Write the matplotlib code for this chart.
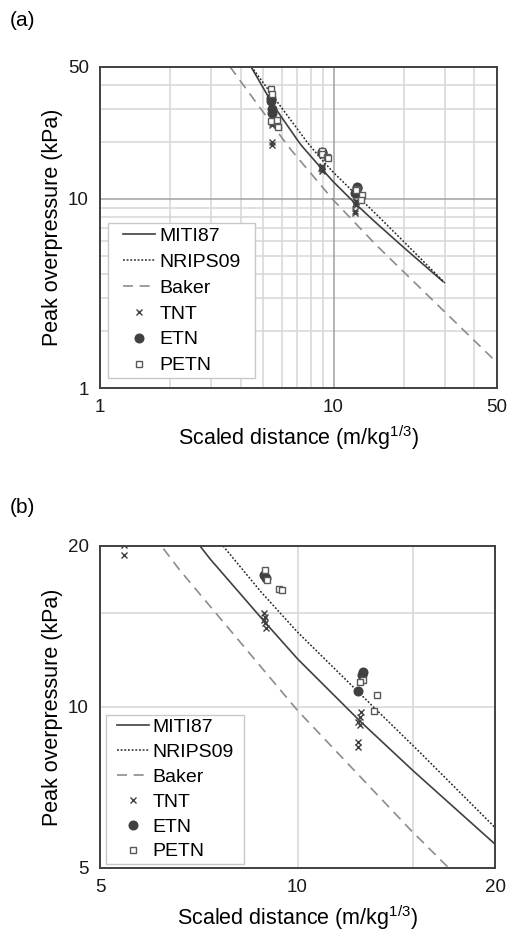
import numpy as np
import matplotlib
matplotlib.use('Agg')
import matplotlib.pyplot as plt
from matplotlib.patches import Rectangle
from matplotlib.ticker import FixedLocator, NullFormatter

plt.rcParams['font.family'] = ['Liberation Sans', 'DejaVu Sans']
plt.rcParams['mathtext.fontset'] = 'custom'
plt.rcParams['mathtext.rm'] = 'Liberation Sans'
plt.rcParams['mathtext.default'] = 'regular'

# curves (scaled distance, peak overpressure kPa)
miti_x = [4.43, 5.5, 7.1, 7.36, 8.92, 10, 12.45, 15, 20, 29.4]
miti_y = [50, 31.5, 20, 18.9, 14.4, 12.3, 9.41, 7.6, 5.54, 3.67]
nrips_x = [4.45, 5.5, 7.7, 8.8, 10, 13, 15.4, 20, 30]
nrips_y = [50, 35, 20, 16.4, 13.8, 10.05, 8.2, 5.95, 3.6]
baker_x = [3.6, 6.2, 6.62, 10, 14.85, 17, 50]
baker_y = [50, 20, 18.0, 9.85, 5.9, 5.0, 1.37]

# measured points
tnt_x = [5.43, 5.43, 5.43, 5.43, 8.9, 8.92, 8.88, 8.92, 8.95,
         12.5, 12.45, 12.38, 12.45, 12.35, 12.38]
tnt_y = [25.2, 24.5, 20.1, 19.2, 14.96, 14.75, 14.54, 14.33, 14.03,
         9.80, 9.59, 9.39, 9.25, 8.59, 8.43]
etn_x = [5.42, 5.42, 5.43, 5.44, 8.9, 8.95, 12.6, 12.55, 12.38]
etn_y = [34.0, 33.0, 30.0, 28.5, 17.65, 17.44, 11.64, 11.47, 10.71]
petn_x = [5.42, 5.46, 5.42, 5.72, 5.76, 8.92, 8.97, 9.38, 9.48,
          12.58, 12.45, 13.23, 13.1]
petn_y = [38.3, 35.8, 25.8, 26.0, 24.0, 18.0, 17.28, 16.6, 16.55,
          11.23, 11.12, 10.53, 9.83]

panels = [
    dict(label='(a)', rect=[0.1969, 0.5829, 0.7809, 0.3455], lim=(1, 50),
         ticks=[1, 10, 50],
         minor=[2, 3, 4, 5, 6, 7, 8, 9, 20, 30, 40], major=[10],
         tag_y=0.978, leg_anchor=(0.0487, 0.031), leg_space=0.43,
         leg_pad=0.2, side_pad=11),
    dict(label='(b)', rect=[0.1969, 0.0677, 0.7776, 0.3459], lim=(5, 20),
         ticks=[5, 10, 20],
         minor=[10, 15], major=[],
         tag_y=0.4544, leg_anchor=(0.0329, 0.0125), leg_space=0.376,
         leg_pad=0.18, side_pad=7),
]

fig = plt.figure(figsize=(5.08, 9.31), dpi=100)
legends = []

for p in panels:
    ax = fig.add_axes(p['rect'])
    ax.set_xscale('log')
    ax.set_yscale('log')
    ax.set_xlim(*p['lim'])
    ax.set_ylim(*p['lim'])

    for v in p['minor']:
        ax.axvline(v, color='#d6d6d6', lw=1.1, zorder=0)
        ax.axhline(v, color='#d6d6d6', lw=1.1, zorder=0)
    for v in p['major']:
        ax.axvline(v, color='#a0a0a0', lw=1.1, zorder=0)
        ax.axhline(v, color='#a0a0a0', lw=1.1, zorder=0)

    ax.plot(miti_x, miti_y, color='#404040', lw=1.2, label='MITI87')
    ax.plot(nrips_x, nrips_y, color='#262626', lw=1.1, ls=(0, (1.2, 1.2)),
            label='NRIPS09')
    ax.plot(baker_x, baker_y, color='#8c8c8c', lw=1.2, ls=(0, (6, 4)),
            label='Baker')
    ax.plot(tnt_x, tnt_y, ls='none', marker='x', ms=4.8, mew=1.0,
            color='#404040', label='TNT')
    ax.plot(etn_x, etn_y, ls='none', marker='o', ms=6.2,
            color='#404040', label='ETN')
    ax.plot(petn_x, petn_y, ls='none', marker='s', ms=5, mew=1.0,
            mfc='white', mec='#595959', label='PETN')

    ax.xaxis.set_major_locator(FixedLocator(p['ticks']))
    ax.yaxis.set_major_locator(FixedLocator(p['ticks']))
    ax.xaxis.set_minor_locator(FixedLocator([]))
    ax.yaxis.set_minor_locator(FixedLocator([]))
    ax.xaxis.set_minor_formatter(NullFormatter())
    ax.yaxis.set_minor_formatter(NullFormatter())
    ax.set_xticklabels([str(t) for t in p['ticks']])
    ax.set_yticklabels([str(t) for t in p['ticks']])
    ax.tick_params(length=0, labelsize=13.5, pad=8, colors='#1a1a1a')

    for s in ax.spines.values():
        s.set_color('#404040')
        s.set_linewidth(1.4)

    ax.set_xlabel('Scaled distance (m/kg$^{1/3}$)', fontsize=15.5, labelpad=5)
    ax.set_ylabel('Peak overpressure (kPa)', fontsize=15.5, labelpad=3.5)

    leg = ax.legend(loc='lower left', bbox_to_anchor=p['leg_anchor'],
                    fontsize=14, frameon=False,
                    handlelength=1.65, handletextpad=0.2,
                    labelspacing=p['leg_space'],
                    borderaxespad=0, borderpad=p['leg_pad'])
    legends.append((ax, leg, p['side_pad']))

    fig.text(0.02, p['tag_y'], p['label'], fontsize=15, va='center', ha='left')

# legend frame, wider than the default pad on left and right
fig.canvas.draw()
renderer = fig.canvas.get_renderer()
for ax, leg, side in legends:
    bb = leg.get_window_extent(renderer)
    (x0, y0), (x1, y1) = ax.transAxes.inverted().transform(
        [[bb.x0 - side, bb.y0], [bb.x1 + side, bb.y1]])
    ax.add_patch(Rectangle((x0, y0), x1 - x0, y1 - y0, transform=ax.transAxes,
                           facecolor='white', edgecolor='#c8c8c8', lw=1.0,
                           zorder=4.5, clip_on=False))

fig.savefig('out.png', dpi=100)
